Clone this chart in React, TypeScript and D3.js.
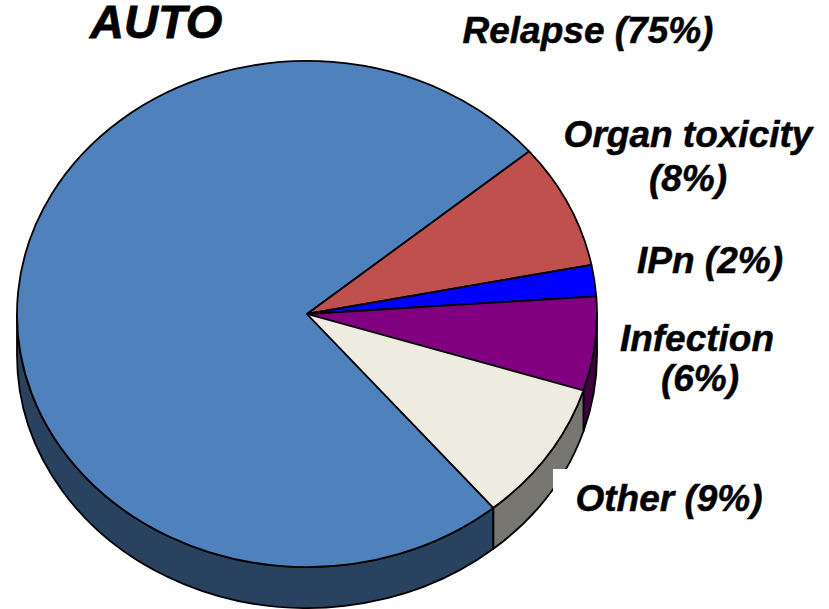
import { useEffect, useRef } from 'react';
import * as d3 from 'd3';

const categories = ['Relapse', 'Organ toxicity', 'IPn', 'Infection', 'Other'];
const percents = [75, 8, 2, 6, 9];
const topColors = ['#4F81BD', '#C0504D', '#0000FF', '#800080', '#EEECE1'];
const sideColors = ['#29425F', '#602827', '#000080', '#400040', '#777670'];
// one row per line of text, so the wrapped labels stay two lines
const labelLines = ['Relapse (75%)', 'Organ toxicity', '(8%)', 'IPn (2%)', 'Infection', '(6%)', 'Other (9%)'];
const labelX = [588, 688, 688, 710, 697, 700, 669];
const labelY = [43, 147, 191, 273, 351, 391, 511];

const width = 829;
const height = 609;
const cx = 307;
const cy = 314;
const rx = 290;
const ry = 253;
const depth = 41;
const startDeg = 140;

const App = () => {
  const svgRef = useRef<SVGSVGElement>(null);

  useEffect(() => {
    const svg = d3.select(svgRef.current)
      .attr('width', width)
      .attr('height', height)
      .style('position', 'absolute')
      .style('left', 0)
      .style('top', 0);
    svg.selectAll('*').remove();

    const rad = (startDeg * Math.PI) / 180;
    const pie = d3.pie<number>().sort(null).startAngle(rad).endAngle(rad + 2 * Math.PI);
    const arcs = pie(percents);

    const px = (a: number) => cx + rx * Math.sin(a);
    const py = (a: number) => cy - ry * Math.cos(a);

    // side wall: only the part of each slice facing the viewer (90deg to 270deg)
    const wall = (a0: number, a1: number) => {
      const big = a1 - a0 > Math.PI ? 1 : 0;
      return `M${px(a0)},${py(a0)}A${rx},${ry} 0 ${big} 1 ${px(a1)},${py(a1)}`
        + `L${px(a1)},${py(a1) + depth}A${rx},${ry} 0 ${big} 0 ${px(a0)},${py(a0) + depth}Z`;
    };

    const turn = 2 * Math.PI;
    const front0 = Math.PI / 2;
    const front1 = (3 * Math.PI) / 2;
    arcs.forEach((d, i) => {
      // slices past a full turn are back on the right hand side
      const shift = d.startAngle >= turn ? turn : 0;
      const a0 = Math.max(d.startAngle - shift, front0);
      const a1 = Math.min(d.endAngle - shift, front1);
      if (a1 <= a0) return;
      svg.append('path')
        .attr('d', wall(a0, a1))
        .attr('fill', sideColors[i])
        .attr('stroke', '#000')
        .attr('stroke-width', 1.8)
        .attr('stroke-linejoin', 'round');
    });

    const arc = d3.arc<d3.PieArcDatum<number>>().innerRadius(0).outerRadius(rx);
    const top = svg.append('g')
      .attr('transform', `translate(${cx},${cy}) scale(1,${ry / rx})`);
    top.selectAll('path')
      .data(arcs)
      .enter().append('path')
      .attr('d', d => arc(d))
      .attr('fill', (_, i) => topColors[i])
      .attr('stroke', '#000')
      .attr('stroke-width', 1.8)
      .attr('stroke-linejoin', 'round')
      .attr('vector-effect', 'non-scaling-stroke')
      .append('title')
      .text((_, i) => categories[i]);

    // white box behind the Other label cuts into the wall
    svg.append('rect')
      .attr('x', 553)
      .attr('y', 469)
      .attr('width', 220)
      .attr('height', 60)
      .attr('fill', '#fff');

    const font = "'Liberation Sans', Arial, sans-serif";
    svg.append('text')
      .attr('x', 90)
      .attr('y', 38)
      .attr('font-family', font)
      .attr('font-size', 47)
      .attr('font-weight', 'bold')
      .attr('font-style', 'italic')
      .attr('stroke', '#000')
      .attr('stroke-width', 0.8)
      .text('AUTO');

    svg.selectAll('.label')
      .data(labelLines)
      .enter().append('text')
      .attr('class', 'label')
      .attr('x', (_, i) => labelX[i])
      .attr('y', (_, i) => labelY[i])
      .attr('text-anchor', 'middle')
      .attr('font-family', font)
      .attr('font-size', 37)
      .attr('font-weight', 'bold')
      .attr('font-style', 'italic')
      .attr('stroke', '#000')
      .attr('stroke-width', 0.5)
      .text(d => d);
  }, []);

  return <svg ref={svgRef} />;
};

export default App;
